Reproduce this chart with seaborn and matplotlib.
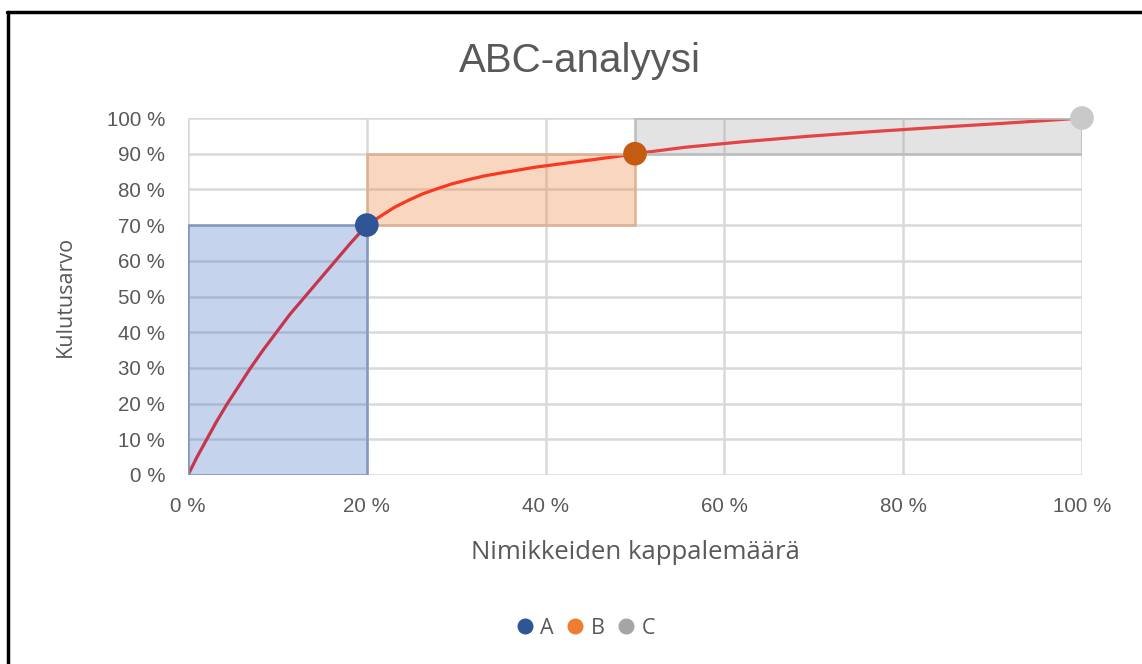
import numpy as np
import pandas as pd
import matplotlib
matplotlib.use("Agg")
import matplotlib.pyplot as plt
from matplotlib.lines import Line2D
import seaborn as sns

# ---- data ----
# cumulative curve (x = share of items %, y = consumption value %)
curve_x = [0, 1.0, 2.1, 3.2, 4.4, 5.7, 7.0, 8.4, 9.9, 11.4, 13.1, 14.8, 16.5, 18.2, 20,
           21.6, 23.1, 24.7, 26.3, 28.0, 29.6, 31.4, 33.1, 35.0, 36.9, 38.8, 40.9, 43.0, 45.2, 47.6, 50,
           55.6, 62.3, 69.5, 76.9, 84.0, 90.5, 96.0, 100]
curve_y = [0, 5, 10, 15, 20, 25, 30, 35, 40, 45, 50, 55, 60, 65, 70,
           72.6, 75.0, 77.0, 78.8, 80.3, 81.6, 82.75, 83.75, 84.6, 85.4, 86.2, 86.9, 87.6, 88.3, 89.1, 90,
           91.8, 93.4, 94.9, 96.25, 97.4, 98.4, 99.3, 100]

# class boundary points
classes = ["A", "B", "C"]
class_x = [20, 50, 100]
class_y = [70, 90, 100]

# class rectangles
rect_x0 = [0, 20, 50]
rect_x1 = [20, 50, 100]
rect_y0 = [0, 70, 90]
rect_y1 = [70, 90, 100]

x_ticks = [0, 20, 40, 60, 80, 100]
y_ticks = [0, 10, 20, 30, 40, 50, 60, 70, 80, 90, 100]

title = "ABC-analyysi"
xlabel = "Nimikkeiden kappalemäärä"
ylabel = "Kulutusarvo"

# ---- style ----
sns.set_theme(style="white")
plt.rcParams["font.family"] = ["Liberation Sans", "DejaVu Sans"]

fill_colors = ["#4472C4", "#ED7D31", "#A5A5A5"]
edge_colors = ["#8498BC", "#DDB292", "#BDBDBD"]
marker_colors = ["#2F5597", "#C55A11", "#C9C9C9"]
legend_colors = ["#2F5597", "#ED7D31", "#A5A5A5"]
text_color = "#595959"
grid_color = "#D9D9D9"

fig = plt.figure(figsize=(11.42, 6.64), dpi=100)
ax = fig.add_axes([188 / 1142, 1 - 475 / 664, (1082 - 188) / 1142, (475 - 118) / 664])

# grid
ax.set_xlim(0, 100)
ax.set_ylim(0, 100)
ax.set_xticks(x_ticks)
ax.set_yticks(y_ticks)
ax.grid(True, color=grid_color, linewidth=1.8, zorder=0)
ax.set_axisbelow(True)
for s in ax.spines.values():
    s.set_visible(False)

# curve
curve_df = pd.DataFrame({"x": curve_x, "y": curve_y})
sns.lineplot(data=curve_df, x="x", y="y", ax=ax, color="#FF1A1A", linewidth=2.3,
             sort=False, zorder=2, solid_joinstyle="round", solid_capstyle="round")

# rectangles (semi transparent, over the curve)
for x0, x1, y0, y1, fc, ec in zip(rect_x0, rect_x1, rect_y0, rect_y1, fill_colors, edge_colors):
    ax.bar(x0, y1 - y0, width=x1 - x0, bottom=y0, align="edge",
           color=matplotlib.colors.to_rgba(fc, 0.31), edgecolor=ec, linewidth=1.8, zorder=3)

# class points
pts_df = pd.DataFrame({"x": class_x, "y": class_y, "cls": classes})
sns.scatterplot(data=pts_df, x="x", y="y", hue="cls", palette=marker_colors, s=290,
                edgecolor="none", ax=ax, zorder=5, legend=False, clip_on=False)

# ticks
ax.set_xticklabels([f"{v} %" for v in x_ticks])
ax.set_yticklabels([f"{v} %" for v in y_ticks])
ax.tick_params(axis="both", labelsize=14.8, colors=text_color, length=0)
ax.tick_params(axis="x", pad=16)
ax.tick_params(axis="y", pad=16.5)

ax.set_xlabel(xlabel, fontsize=18.5, color=text_color, family=["Open Sans", "DejaVu Sans"], labelpad=17)
ax.set_ylabel(ylabel, fontsize=15.5, color=text_color, family=["Open Sans", "DejaVu Sans"], labelpad=22)

fig.text(0.508, 1 - 61 / 664, title, ha="center", va="center", fontsize=29, color=text_color)

# legend
handles = [Line2D([0], [0], marker="o", linestyle="none", markersize=10.5,
                  markerfacecolor=c, markeredgecolor=c, label=l)
           for c, l in zip(legend_colors, classes)]
fig.legend(handles=handles, loc="center", bbox_to_anchor=(0.511, 1 - 628 / 664), ncol=3,
           frameon=False, handletextpad=0.12, columnspacing=0.4, handlelength=1.2,
           prop={"family": ["Open Sans", "DejaVu Sans"], "size": 15.5}, labelcolor=text_color)

# figure border (top and left visible)
fig.add_artist(Line2D([7 / 1142, 1.0], [1 - 12 / 664, 1 - 12 / 664], color="black", linewidth=2.5,
                      transform=fig.transFigure))
fig.add_artist(Line2D([8 / 1142, 8 / 1142], [0.0, 1 - 12 / 664], color="black", linewidth=2.5,
                      transform=fig.transFigure))

fig.savefig("out.png", dpi=100, facecolor="white")
